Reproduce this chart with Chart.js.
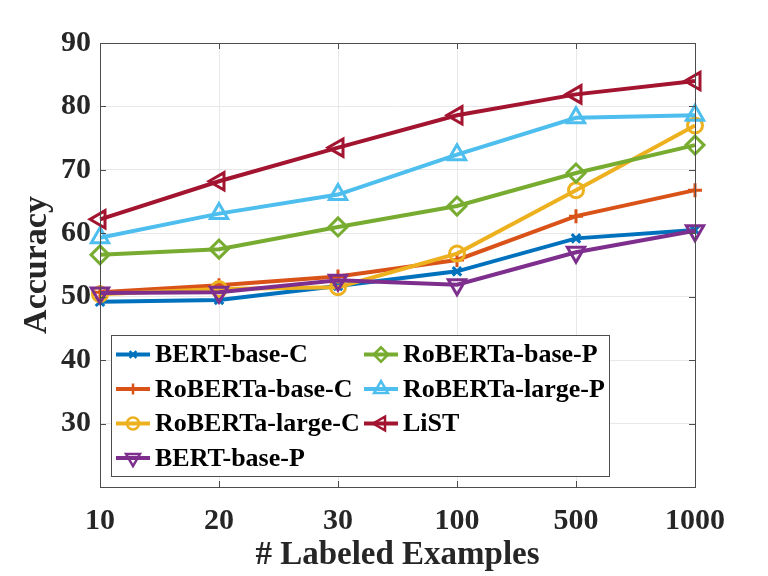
<!DOCTYPE html>
<html>
<head>
<meta charset="utf-8">
<title>Accuracy vs labeled examples</title>
<script src="https://cdn.jsdelivr.net/npm/chart.js@4.4.1/dist/chart.umd.min.js"></script>
<style>
  html, body { margin: 0; padding: 0; background: #ffffff; }
  #wrap { width: 768px; height: 576px; }
</style>
</head>
<body>
<div id="wrap"><canvas id="accChart" width="768" height="576"></canvas></div>
<script>
/* ---------- Data ---------- */
const labeledExamples = ["10", "20", "30", "100", "500", "1000"];
const yTicks = [20, 30, 40, 50, 60, 70, 80, 90];

const bertBaseC = [49.2, 49.5, 51.7, 54.0, 59.2, 60.5];
const robertaBaseC = [50.7, 51.8, 53.2, 55.8, 62.7, 66.8];
const robertaLargeC = [50.4, 51.2, 51.5, 56.8, 66.8, 77.0];
const bertBaseP = [50.6, 50.7, 52.6, 51.9, 57.0, 60.4];
const robertaBaseP = [56.6, 57.5, 61.0, 64.3, 69.5, 73.9];
const robertaLargeP = [59.3, 63.1, 66.1, 72.4, 78.2, 78.6];
const listScores = [62.2, 68.2, 73.5, 78.6, 81.9, 84.0];

const seriesNames = [
  "BERT-base-C", "RoBERTa-base-C", "RoBERTa-large-C", "BERT-base-P",
  "RoBERTa-base-P", "RoBERTa-large-P", "LiST"
];

/* ---------- Styles ---------- */
const FONT = "'Liberation Serif', 'Times New Roman', serif";
const TEXT_COLOR = "#262626";
const AXIS_COLOR = "#4d4d4d";
const GRID_COLOR = "#e8e8e8";

const seriesStyles = [
  { color: "#0072BD", style: "crossRot", radius: 6, rotation: 0 },
  { color: "#D95319", style: "cross", radius: 7, rotation: 0 },
  { color: "#EDB120", style: "circle", radius: 7.5, rotation: 0 },
  { color: "#7E2F8E", style: "triangle", radius: 10, rotation: 180 },
  { color: "#77AC30", style: "rectRot", radius: 9, rotation: 0 },
  { color: "#4DBEEE", style: "triangle", radius: 10, rotation: 0 },
  { color: "#A2142F", style: "triangle", radius: 10, rotation: -90 }
];

const seriesValues = [
  bertBaseC, robertaBaseC, robertaLargeC, bertBaseP,
  robertaBaseP, robertaLargeP, listScores
];

const datasets = seriesValues.map((values, i) => {
  const s = seriesStyles[i];
  return {
    label: seriesNames[i],
    data: values,
    borderColor: s.color,
    backgroundColor: "transparent",
    borderWidth: 4,
    pointStyle: s.style,
    pointRadius: s.radius,
    pointRotation: s.rotation,
    pointBorderWidth: 3,
    pointBorderColor: s.color,
    pointBackgroundColor: "transparent",
    tension: 0,
    order: seriesValues.length - i
  };
});

/* ---------- Plugins ---------- */
// box outline and inward tick marks (MATLAB style)
const axesBoxPlugin = {
  id: "axesBox",
  afterDraw(chart) {
    const { ctx, chartArea: a, scales } = chart;
    const tick = 6;
    ctx.save();
    ctx.strokeStyle = AXIS_COLOR;
    ctx.lineWidth = 1;

    yTicks.forEach((v) => {
      const y = Math.round(scales.y.getPixelForValue(v)) + 0.5;
      ctx.beginPath();
      ctx.moveTo(a.left, y);
      ctx.lineTo(a.left + tick, y);
      ctx.moveTo(a.right, y);
      ctx.lineTo(a.right - tick, y);
      ctx.stroke();
    });

    labeledExamples.forEach((lab, i) => {
      const x = Math.round(scales.x.getPixelForValue(i)) + 0.5;
      ctx.beginPath();
      ctx.moveTo(x, a.bottom);
      ctx.lineTo(x, a.bottom - tick);
      ctx.moveTo(x, a.top);
      ctx.lineTo(x, a.top + tick);
      ctx.stroke();
    });

    ctx.strokeRect(Math.round(a.left) + 0.5, Math.round(a.top) + 0.5,
      Math.round(a.right - a.left), Math.round(a.bottom - a.top));
    ctx.restore();
  }
};

// two-column legend filled column by column, inside the plot box
const boxLegendPlugin = {
  id: "boxLegend",
  afterDraw(chart) {
    const { ctx, chartArea: a } = chart;
    const boxLeft = a.left + 11;
    const boxBottom = a.bottom - 11;
    const boxWidth = 498;
    const boxHeight = 141;
    const boxTop = boxBottom - boxHeight;
    const rowGap = 34.5;
    const rowsPerCol = 4;
    const colWidth = 248;

    ctx.save();
    ctx.fillStyle = "#ffffff";
    ctx.fillRect(boxLeft, boxTop, boxWidth, boxHeight);
    ctx.strokeStyle = AXIS_COLOR;
    ctx.lineWidth = 1;
    ctx.strokeRect(Math.round(boxLeft) + 0.5, Math.round(boxTop) + 0.5, boxWidth, boxHeight);

    ctx.font = "bold 26px " + FONT;
    ctx.textBaseline = "middle";
    ctx.textAlign = "left";

    chart.data.datasets.forEach((ds, i) => {
      const col = Math.floor(i / rowsPerCol);
      const row = i % rowsPerCol;
      const x0 = boxLeft + 5 + col * colWidth;
      const y = boxTop + 19.5 + row * rowGap;

      ctx.strokeStyle = ds.borderColor;
      ctx.lineWidth = 4;
      ctx.beginPath();
      ctx.moveTo(x0, y);
      ctx.lineTo(x0 + 34, y);
      ctx.stroke();

      const pointOpts = {
        pointStyle: ds.pointStyle,
        rotation: ds.pointRotation,
        radius: ds.pointRadius * 0.8,
        borderWidth: 2.5
      };
      ctx.strokeStyle = ds.borderColor;
      ctx.fillStyle = "transparent";
      ctx.lineWidth = 2.5;
      if (Chart.helpers && Chart.helpers.drawPoint) {
        Chart.helpers.drawPoint(ctx, pointOpts, x0 + 17, y);
      }

      ctx.fillStyle = "#000000";
      ctx.fillText(ds.label, x0 + 39, y + 1);
    });
    ctx.restore();
  }
};

/* ---------- Chart ---------- */
const ctx = document.getElementById("accChart");

new Chart(ctx, {
  type: "line",
  data: {
    labels: labeledExamples,
    datasets: datasets
  },
  options: {
    responsive: false,
    animation: false,
    devicePixelRatio: 1,
    layout: {
      padding: { top: 43, right: 73, left: 0, bottom: 0 }
    },
    plugins: {
      legend: { display: false },
      tooltip: { enabled: false }
    },
    scales: {
      x: {
        type: "category",
        offset: false,
        afterFit(scale) { scale.height = 89; },
        grid: { color: GRID_COLOR, drawTicks: false },
        border: { display: false },
        ticks: {
          color: TEXT_COLOR,
          padding: 16,
          maxRotation: 0,
          font: { family: FONT, size: 30, weight: "bold" }
        },
        title: {
          display: true,
          text: "# Labeled Examples",
          color: TEXT_COLOR,
          padding: { top: 0, bottom: 1 },
          font: { family: FONT, size: 33, weight: "bold", lineHeight: 1.2 }
        }
      },
      y: {
        min: 20,
        max: 90,
        afterFit(scale) { scale.width = 100; },
        afterBuildTicks(scale) {
          scale.ticks = yTicks.map((v) => ({ value: v }));
        },
        grid: { color: GRID_COLOR, drawTicks: false },
        border: { display: false },
        ticks: {
          color: TEXT_COLOR,
          padding: 9,
          font: { family: FONT, size: 30, weight: "bold" },
          callback: (value) => (value === 20 ? "" : String(value))
        },
        title: {
          display: true,
          text: "Accuracy",
          color: TEXT_COLOR,
          padding: { top: 17, bottom: 0 },
          font: { family: FONT, size: 34, weight: "bold", lineHeight: 1.2 }
        }
      }
    }
  },
  plugins: [axesBoxPlugin, boxLegendPlugin]
});
</script>
</body>
</html>
